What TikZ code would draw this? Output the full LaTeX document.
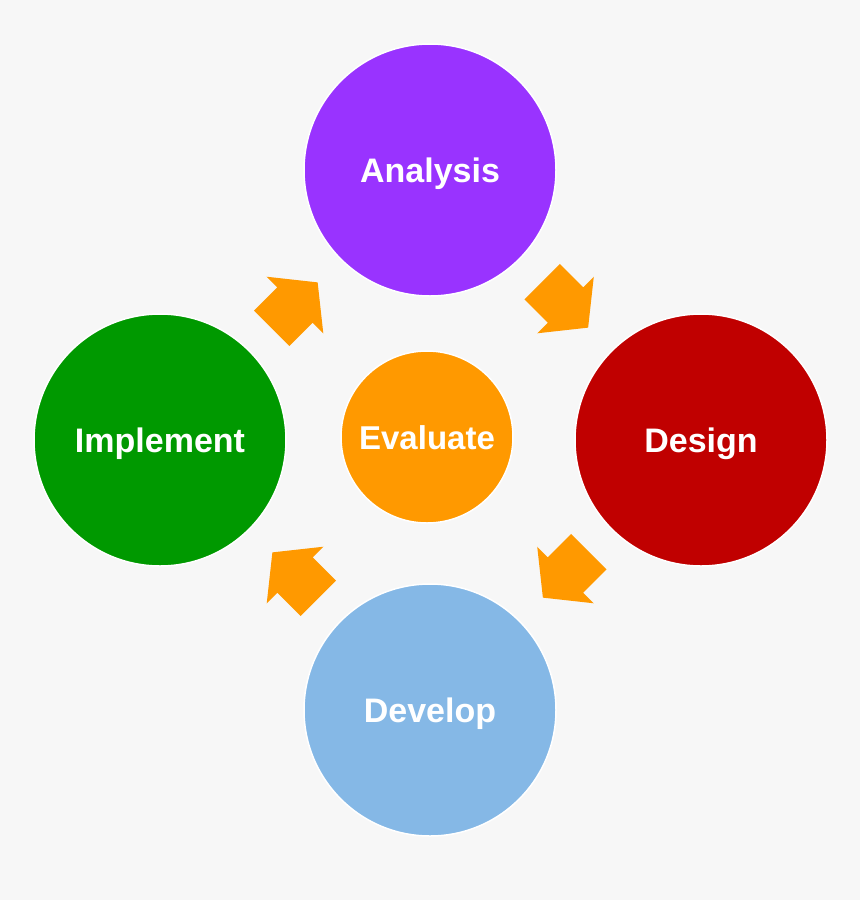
\documentclass[tikz,border=0pt]{standalone}
\usepackage{fontspec}
\setmainfont{Liberation Sans}
\usetikzlibrary{calc}
\definecolor{bgC}{HTML}{F7F7F7}
\definecolor{anaC}{HTML}{9933FF}
\definecolor{desC}{HTML}{C00000}
\definecolor{devC}{HTML}{85B8E6}
\definecolor{impC}{HTML}{009900}
\definecolor{evaC}{HTML}{FF9900}
\begin{document}
\begin{tikzpicture}[x=1pt,y=-1pt,
  stage/.style={circle, draw=white, line width=1.5pt, minimum size=252pt, inner sep=0pt,
    text height=24.5pt, text depth=0pt,
    text=white, font=\fontsize{34}{40}\selectfont\bfseries},
  blockarr/.pic={\fill[evaC] (-33,-25) -- (0,-25) -- (0,-40) -- (32,0) -- (0,40) -- (0,25) -- (-33,25) -- cycle;}]
\fill[bgC] (0,0) rectangle (860,900);
\useasboundingbox (0,0) rectangle (860,900);
\node[stage, fill=anaC] (ana) at (430,170) {Analysis};
\node[stage, fill=desC] (des) at (701,440) {Design};
\node[stage, fill=devC] (dev) at (430,710) {Develop};
\node[stage, fill=impC] (imp) at (160,440) {Implement};
\node[stage, fill=evaC, minimum size=172pt, font=\fontsize{33}{40}\selectfont\bfseries] (eva) at (427,437) {Evaluate};
\pic[rotate=-45] at ($(ana)!0.5!(des)$) {blockarr};
\pic[rotate=-135] at ($(des)!0.5!(dev)$) {blockarr};
\pic[rotate=135] at ($(dev)!0.5!(imp)$) {blockarr};
\pic[rotate=45] at ($(imp)!0.5!(ana)$) {blockarr};
\end{tikzpicture}
\end{document}
